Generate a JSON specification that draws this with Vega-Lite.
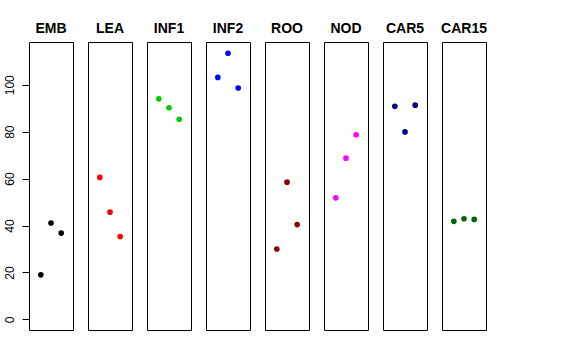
{
  "$schema": "https://vega.github.io/schema/vega-lite/v6.json",
  "background": "white",
  "padding": {"left": 3, "top": 22, "right": 5, "bottom": 5},
  "bounds": "flush",
  "config": {
    "font": "Liberation Sans",
    "view": {"stroke": "black", "strokeWidth": 1},
    "facet": {"spacing": 15}
  },
  "data": {
    "values": [
      {"tissue": "EMB", "rep": 1, "value": 19.0},
      {"tissue": "EMB", "rep": 2, "value": 41.1},
      {"tissue": "EMB", "rep": 3, "value": 36.8},
      {"tissue": "LEA", "rep": 1, "value": 60.5},
      {"tissue": "LEA", "rep": 2, "value": 45.7},
      {"tissue": "LEA", "rep": 3, "value": 35.3},
      {"tissue": "INF1", "rep": 1, "value": 94.0},
      {"tissue": "INF1", "rep": 2, "value": 90.2},
      {"tissue": "INF1", "rep": 3, "value": 85.3},
      {"tissue": "INF2", "rep": 1, "value": 103.1},
      {"tissue": "INF2", "rep": 2, "value": 113.4},
      {"tissue": "INF2", "rep": 3, "value": 98.6},
      {"tissue": "ROO", "rep": 1, "value": 30.0},
      {"tissue": "ROO", "rep": 2, "value": 58.5},
      {"tissue": "ROO", "rep": 3, "value": 40.4},
      {"tissue": "NOD", "rep": 1, "value": 51.8},
      {"tissue": "NOD", "rep": 2, "value": 68.7},
      {"tissue": "NOD", "rep": 3, "value": 78.7},
      {"tissue": "CAR5", "rep": 1, "value": 90.8},
      {"tissue": "CAR5", "rep": 2, "value": 79.9},
      {"tissue": "CAR5", "rep": 3, "value": 91.3},
      {"tissue": "CAR15", "rep": 1, "value": 41.8},
      {"tissue": "CAR15", "rep": 2, "value": 42.9},
      {"tissue": "CAR15", "rep": 3, "value": 42.6}
    ]
  },
  "facet": {
    "column": {
      "field": "tissue",
      "type": "nominal",
      "sort": ["EMB", "LEA", "INF1", "INF2", "ROO", "NOD", "CAR5", "CAR15"],
      "title": null,
      "header": {
        "labelFontSize": 14,
        "labelFontWeight": "bold",
        "labelColor": "black",
        "labelFont": "Liberation Sans",
        "labelPadding": 6
      }
    }
  },
  "spec": {
    "width": 44,
    "height": 288,
    "mark": {"type": "point", "filled": true, "opacity": 1, "size": 32},
    "encoding": {
      "x": {
        "field": "rep",
        "type": "quantitative",
        "scale": {"domain": [-0.16, 4.16], "nice": false, "zero": false},
        "axis": null
      },
      "y": {
        "field": "value",
        "type": "quantitative",
        "scale": {"domain": [-4.5, 118.2], "nice": false, "zero": false},
        "axis": {
          "title": null,
          "values": [0, 20, 40, 60, 80, 100],
          "grid": false,
          "domain": false,
          "tickColor": "black",
          "tickSize": 7,
          "labelAngle": -90,
          "labelAlign": "center",
          "labelBaseline": "bottom",
          "labelPadding": 6,
          "labelFontSize": 12,
          "labelColor": "black",
          "minExtent": 24,
          "maxExtent": 24
        }
      },
      "color": {
        "field": "tissue",
        "type": "nominal",
        "scale": {
          "domain": ["EMB", "LEA", "INF1", "INF2", "ROO", "NOD", "CAR5", "CAR15"],
          "range": ["#000000", "#FF0000", "#00CD00", "#0000FF", "#8B0000", "#FF00FF", "#00008B", "#006400"]
        },
        "legend": null
      }
    }
  }
}
